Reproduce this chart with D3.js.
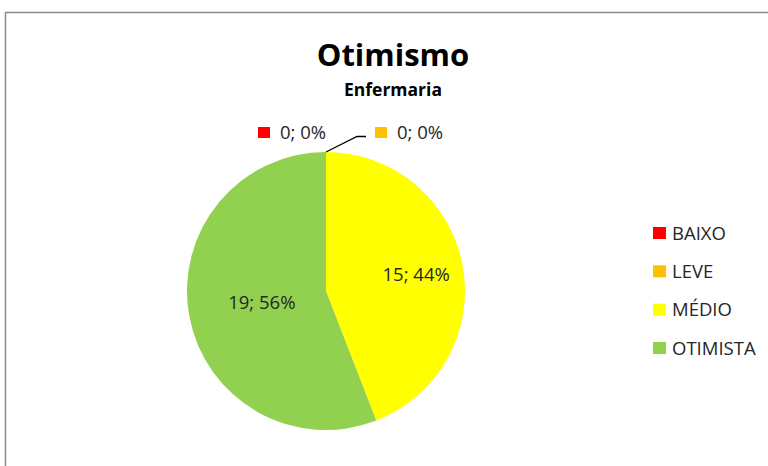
<!DOCTYPE html>
<html>
<head>
<meta charset="utf-8">
<script src="https://cdn.jsdelivr.net/npm/d3@7"></script>
<style>
  body { margin: 0; background: #fff; }
  svg { display: block; font-family: "Open Sans", "Liberation Sans", sans-serif; }
</style>
</head>
<body>
<div id="chart"></div>
<script>
// data
const categories = ["BAIXO", "LEVE", "MÉDIO", "OTIMISTA"];
const counts = [0, 0, 15, 19];
const percentLabels = ["0%", "0%", "44%", "56%"];
const colors = ["#FF0000", "#FFC000", "#FFFF00", "#92D050"];

const chartTitle = "Otimismo";
const chartSubtitle = "Enfermaria";

const width = 768, height = 466;
const cx = 326, cy = 291, radius = 139;

const svg = d3.select("#chart")
    .append("svg")
    .attr("width", width)
    .attr("height", height);

// chart frame (only top/left visible in the crop)
svg.append("rect")
    .attr("x", 5.5)
    .attr("y", 12.5)
    .attr("width", 800)
    .attr("height", 500)
    .attr("fill", "none")
    .attr("stroke", "#8a8a8a")
    .attr("stroke-width", 1.5);

// titles
svg.append("text")
    .attr("x", 393)
    .attr("y", 66)
    .attr("text-anchor", "middle")
    .attr("font-size", 31)
    .attr("font-weight", "bold")
    .attr("fill", "#000")
    .text(chartTitle);

svg.append("text")
    .attr("x", 393)
    .attr("y", 96)
    .attr("text-anchor", "middle")
    .attr("font-size", 17.5)
    .attr("font-weight", "bold")
    .attr("fill", "#000")
    .text(chartSubtitle);

// pie
const pie = d3.pie().sort(null).value(d => d);
const arcs = pie(counts);
const arc = d3.arc().innerRadius(0).outerRadius(radius);

const g = svg.append("g")
    .attr("transform", `translate(${cx},${cy})`);

g.selectAll("path.slice")
    .data(arcs)
    .enter()
    .append("path")
    .attr("class", "slice")
    .attr("d", arc)
    .attr("fill", (d, i) => colors[i]);

// label radius as a fraction of the pie radius (Excel best-fit placement)
const labelFactor = { "MÉDIO": 0.66, "OTIMISTA": 0.47 };

arcs.forEach((d, i) => {
    const text = `${counts[i]}; ${percentLabels[i]}`;
    if (counts[i] > 0) {
        const mid = (d.startAngle + d.endAngle) / 2;
        const r = radius * labelFactor[categories[i]];
        g.append("text")
            .attr("x", Math.sin(mid) * r)
            .attr("y", -Math.cos(mid) * r)
            .attr("dy", "0.35em")
            .attr("text-anchor", "middle")
            .attr("font-size", 18.5)
            .attr("fill", "#262626")
            .text(text);
        return;
    }
    // zero-size slices: labels sit above the top of the pie
    const px = Math.sin(d.startAngle) * radius;
    const py = -Math.cos(d.startAngle) * radius;
    let lx, ly = py - 13;
    if (i === 0) {
        lx = px - 68;
    } else {
        lx = px + 49;
        g.append("path")
            .attr("d", `M${px},${py}L${px + 31},${py - 15.5}L${px + 40},${py - 15.5}`)
            .attr("fill", "none")
            .attr("stroke", "#000")
            .attr("stroke-width", 1.3);
    }
    g.append("rect")
        .attr("x", lx)
        .attr("y", ly - 12)
        .attr("width", 12)
        .attr("height", 11)
        .attr("fill", colors[i]);
    g.append("text")
        .attr("x", lx + 22)
        .attr("y", ly)
        .attr("font-size", 18.5)
        .attr("fill", "#262626")
        .text(text);
});

// legend
const legendY = d3.scalePoint()
    .domain(categories)
    .range([233, 348]);

const legend = svg.append("g").attr("class", "legend");
const item = legend.selectAll("g")
    .data(categories)
    .enter()
    .append("g")
    .attr("transform", d => `translate(653,${legendY(d)})`);

item.append("rect")
    .attr("x", 0)
    .attr("y", -6)
    .attr("width", 13)
    .attr("height", 12)
    .attr("fill", (d, i) => colors[i]);

item.append("text")
    .attr("x", 19)
    .attr("y", 0)
    .attr("dy", "0.36em")
    .attr("font-size", 18.5)
    .attr("fill", "#262626")
    .text(d => d);
</script>
</body>
</html>
